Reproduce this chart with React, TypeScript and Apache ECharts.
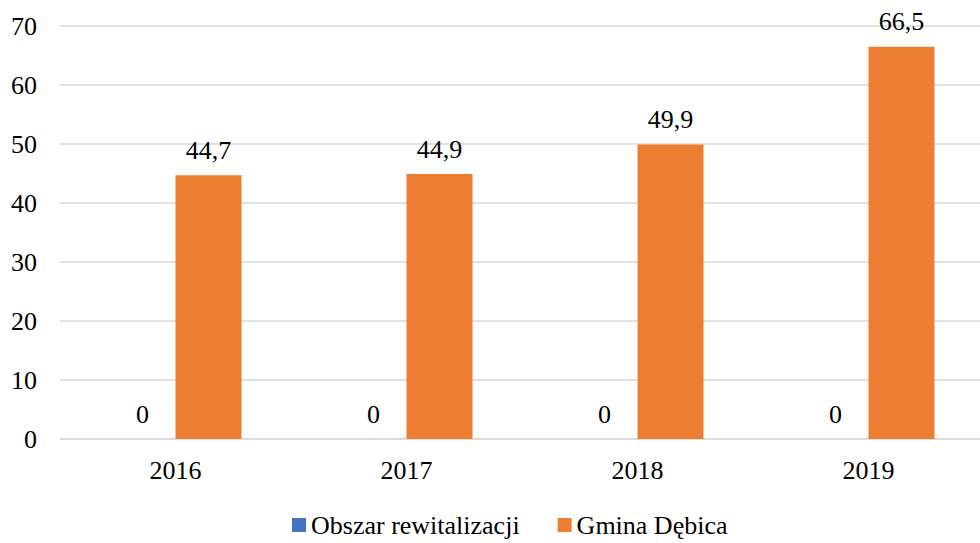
import React, { useEffect, useRef } from "react";
import * as echarts from "echarts";

const categories = ["2016", "2017", "2018", "2019"];
const seriesNames = ["Obszar rewitalizacji", "Gmina Dębica"];
const obszarValues = [0, 0, 0, 0];
const gminaValues = [44.7, 44.9, 49.9, 66.5];
const yTicks = { min: 0, max: 70, interval: 10 };

const FONT = "Times New Roman, Liberation Serif, DejaVu Serif, serif";

export default function App() {
  const ref = useRef<HTMLDivElement>(null);
  useEffect(() => {
    if (!ref.current) return;
    const chart = echarts.init(ref.current, null, { renderer: "svg" });
    const fmt = (p: any) => String(p.value).replace(".", ",");
    const labelStyle = {
      show: true,
      position: "top" as const,
      distance: 12,
      color: "#000",
      fontSize: 26,
      fontFamily: FONT,
      formatter: fmt,
    };
    chart.setOption({
      animation: false,
      textStyle: { fontFamily: FONT },
      grid: { left: 60, top: 26, width: 924, height: 413, containLabel: false },
      legend: {
        left: 287,
        top: 507,
        icon: "rect",
        itemWidth: 14,
        itemHeight: 14,
        itemGap: 38,
        textStyle: { fontSize: 26, fontFamily: FONT, color: "#000" },
        data: seriesNames,
      },
      xAxis: {
        type: "category",
        data: categories,
        axisLine: { show: true, lineStyle: { color: "#d9d9d9", width: 1.5 } },
        axisTick: { show: false },
        axisLabel: { fontSize: 26, fontFamily: FONT, color: "#000", margin: 18 },
      },
      yAxis: {
        type: "value",
        min: yTicks.min,
        max: yTicks.max,
        interval: yTicks.interval,
        axisLine: { show: false },
        axisTick: { show: false },
        splitLine: { lineStyle: { color: "#d9d9d9", width: 1.5 } },
        axisLabel: { fontSize: 26, fontFamily: FONT, color: "#000", margin: 23 },
      },
      series: [
        {
          name: seriesNames[0],
          type: "bar",
          data: obszarValues,
          barWidth: 66,
          barGap: "0%",
          itemStyle: { color: "#4472C4" },
          label: labelStyle,
        },
        {
          name: seriesNames[1],
          type: "bar",
          data: gminaValues,
          barWidth: 66,
          barGap: "0%",
          itemStyle: { color: "#ED7D31" },
          label: labelStyle,
        },
      ],
    });
    return () => chart.dispose();
  }, []);
  return (
    <div
      style={{ position: "fixed", left: 0, top: 0, width: 980, height: 543, overflow: "hidden", background: "#fff" }}
    >
      <div ref={ref} style={{ width: 986, height: 543 }} />
    </div>
  );
}
